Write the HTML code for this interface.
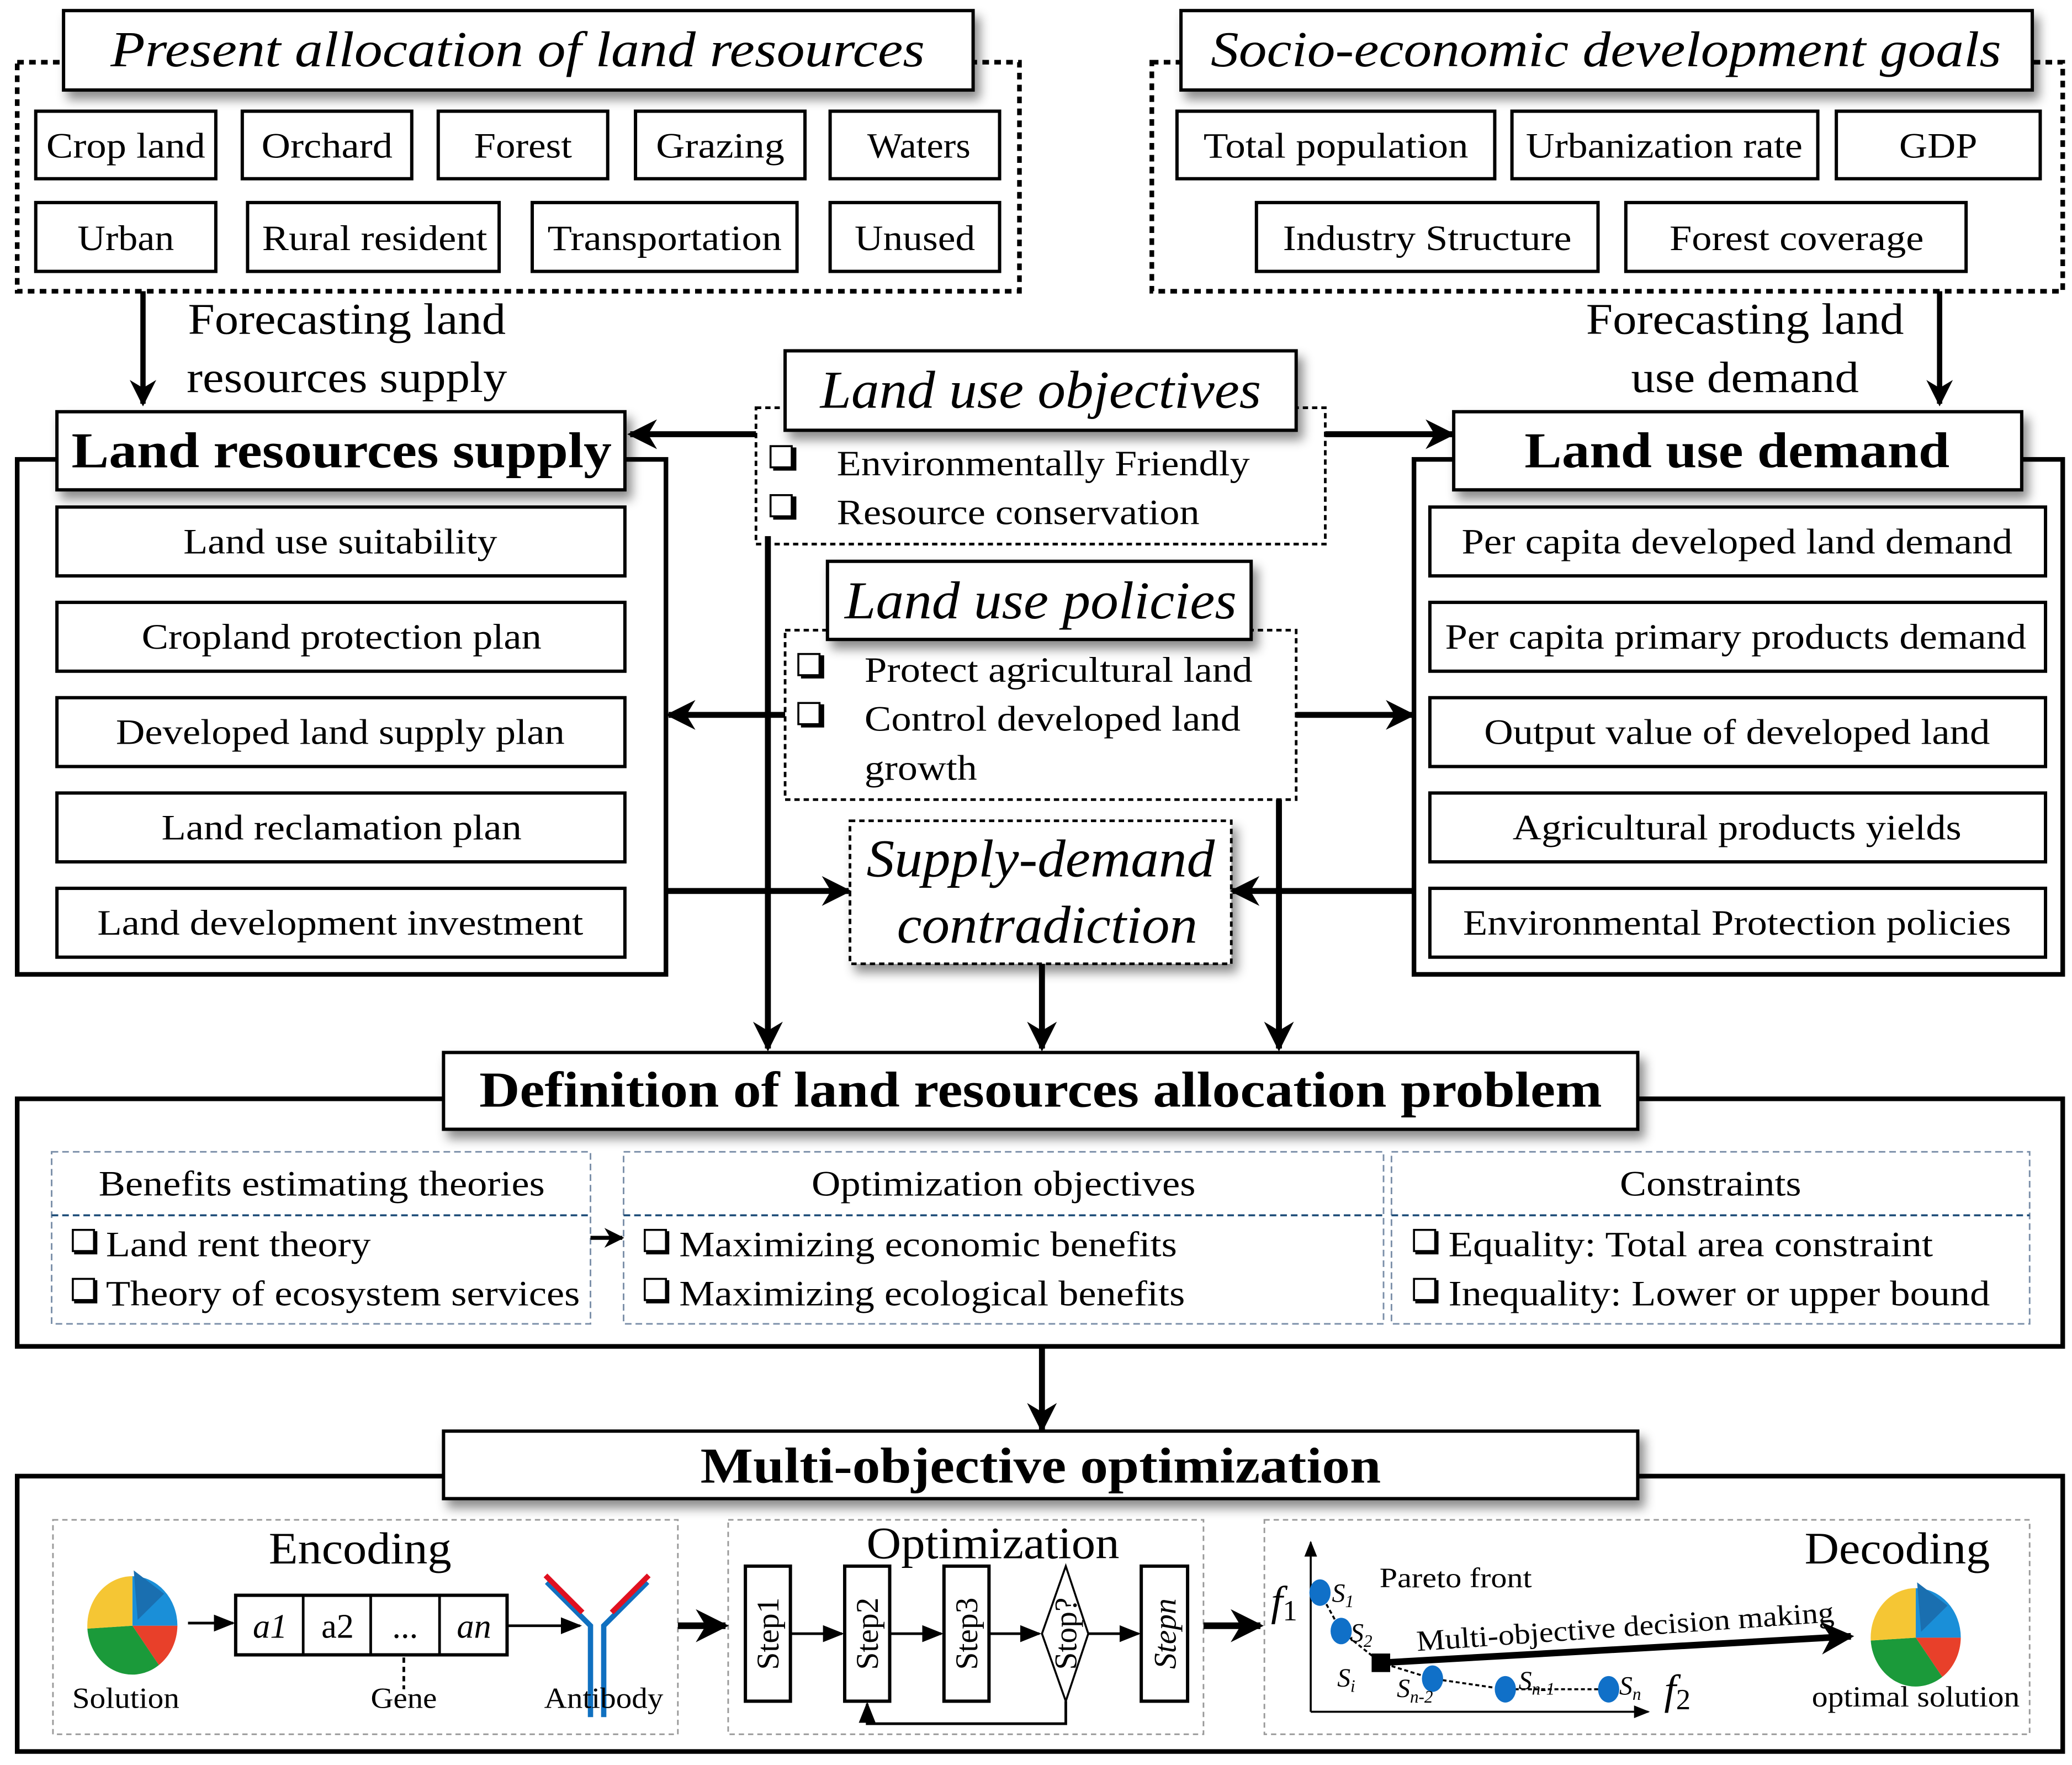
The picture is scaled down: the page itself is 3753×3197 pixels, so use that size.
<!DOCTYPE html>
<html><head><meta charset="utf-8"><style>
html,body{margin:0;padding:0;background:#fff;}
svg{display:block;}
text{font-family:"Liberation Serif","Times New Roman",serif;fill:#000;}
</style></head><body>
<svg width="3753" height="3197" viewBox="0 0 1565 1333.2" preserveAspectRatio="none" xmlns="http://www.w3.org/2000/svg">
<defs>
<filter id="sh" x="-10%" y="-20%" width="130%" height="160%"><feDropShadow dx="4" dy="6" stdDeviation="4" flood-color="#000" flood-opacity="0.45"/></filter>
<marker id="ah" viewBox="0 0 10 10" refX="9" refY="5" markerWidth="5" markerHeight="5" orient="auto" markerUnits="strokeWidth"><path d="M0,0 L10,5 L0,10 L3,5 z" fill="#000"/></marker>
<marker id="as" viewBox="0 0 10 10" refX="9" refY="5" markerWidth="8" markerHeight="8" orient="auto" markerUnits="strokeWidth"><path d="M0,1 L10,5 L0,9 z" fill="#000"/></marker>
</defs>
<rect width="1565" height="1333.2" fill="#fff"/>
<g stroke="#000" fill="none">
<rect x="13" y="47" width="757" height="173" stroke-width="3.5" stroke-dasharray="5,4"/>
<rect x="870" y="47" width="688" height="173" stroke-width="3.5" stroke-dasharray="5,4"/>
</g>
<g stroke="#000" stroke-width="2.5" fill="#fff" filter="url(#sh)">
<rect x="48" y="8" width="687" height="60"/>
<rect x="892" y="8" width="643" height="60"/>
</g>
<g stroke="#000" stroke-width="2.5" fill="#fff">
<rect x="27" y="84" width="136" height="51"/><rect x="183" y="84" width="128" height="51"/><rect x="331" y="84" width="128" height="51"/><rect x="480" y="84" width="128" height="51"/><rect x="627" y="84" width="128" height="51"/>
<rect x="27" y="153" width="136" height="52"/><rect x="187" y="153" width="190" height="52"/><rect x="402" y="153" width="200" height="52"/><rect x="627" y="153" width="128" height="52"/>
<rect x="889" y="84" width="240" height="51"/><rect x="1142" y="84" width="231" height="51"/><rect x="1387" y="84" width="154" height="51"/>
<rect x="949" y="153" width="258" height="52"/><rect x="1228" y="153" width="257" height="52"/>
</g>
<g font-style="italic" font-size="38" text-anchor="middle" lengthAdjust="spacingAndGlyphs">
<text x="391" y="50" textLength="615" lengthAdjust="spacingAndGlyphs">Present allocation of land resources</text>
<text x="1213" y="50" textLength="597" lengthAdjust="spacingAndGlyphs">Socio-economic development goals</text>
</g>
<g font-size="27" text-anchor="middle">
<text x="95" y="119" textLength="120" lengthAdjust="spacingAndGlyphs">Crop land</text><text x="247" y="119" textLength="99" lengthAdjust="spacingAndGlyphs">Orchard</text><text x="395" y="119" textLength="74" lengthAdjust="spacingAndGlyphs">Forest</text><text x="544" y="119" textLength="97" lengthAdjust="spacingAndGlyphs">Grazing</text><text x="694" y="119" textLength="78" lengthAdjust="spacingAndGlyphs">Waters</text>
<text x="95" y="189" textLength="73" lengthAdjust="spacingAndGlyphs">Urban</text><text x="283" y="189" textLength="170" lengthAdjust="spacingAndGlyphs">Rural resident</text><text x="502" y="189" textLength="177" lengthAdjust="spacingAndGlyphs">Transportation</text><text x="691" y="189" textLength="91" lengthAdjust="spacingAndGlyphs">Unused</text>
<text x="1009" y="119" textLength="200" lengthAdjust="spacingAndGlyphs">Total population</text><text x="1257" y="119" textLength="209" lengthAdjust="spacingAndGlyphs">Urbanization rate</text><text x="1464" y="119" textLength="59" lengthAdjust="spacingAndGlyphs">GDP</text>
<text x="1078" y="189" textLength="218" lengthAdjust="spacingAndGlyphs">Industry Structure</text><text x="1357" y="189" textLength="192" lengthAdjust="spacingAndGlyphs">Forest coverage</text>
</g>
<g stroke="#000" stroke-width="4" fill="none">
<line x1="108" y1="220" x2="108" y2="305" marker-end="url(#ah)"/>
<line x1="1465" y1="220" x2="1465" y2="305" marker-end="url(#ah)"/>
</g>
<g font-size="33">
<text x="142" y="252" textLength="240" lengthAdjust="spacingAndGlyphs">Forecasting land</text><text x="141" y="296" textLength="242" lengthAdjust="spacingAndGlyphs">resources supply</text>
<text x="1318" y="252" text-anchor="middle" textLength="240" lengthAdjust="spacingAndGlyphs">Forecasting land</text><text x="1318" y="296" text-anchor="middle" textLength="172" lengthAdjust="spacingAndGlyphs">use demand</text>
</g>
<g stroke="#000" stroke-width="3.5" fill="none">
<rect x="13" y="347" width="490" height="389"/>
<rect x="1068" y="347" width="490" height="389"/>
</g>
<g stroke="#000" stroke-width="2.5" fill="#fff" filter="url(#sh)">
<rect x="43" y="311" width="429" height="59"/>
<rect x="1098" y="311" width="429" height="59"/>
</g>
<g font-weight="bold" font-size="38" text-anchor="middle">
<text x="258" y="353" textLength="408" lengthAdjust="spacingAndGlyphs">Land resources supply</text>
<text x="1312" y="353" textLength="321" lengthAdjust="spacingAndGlyphs">Land use demand</text>
</g>
<g stroke="#000" stroke-width="2.5" fill="#fff">
<rect x="43" y="383" width="429" height="52"/><rect x="43" y="455" width="429" height="52"/><rect x="43" y="527" width="429" height="52"/><rect x="43" y="599" width="429" height="52"/><rect x="43" y="671" width="429" height="52"/>
<rect x="1080" y="383" width="465" height="52"/><rect x="1080" y="455" width="465" height="52"/><rect x="1080" y="527" width="465" height="52"/><rect x="1080" y="599" width="465" height="52"/><rect x="1080" y="671" width="465" height="52"/>
</g>
<g font-size="27" text-anchor="middle">
<text x="257" y="418" textLength="237" lengthAdjust="spacingAndGlyphs">Land use suitability</text><text x="258" y="490" textLength="302" lengthAdjust="spacingAndGlyphs">Cropland protection plan</text><text x="257" y="562" textLength="339" lengthAdjust="spacingAndGlyphs">Developed land supply plan</text><text x="258" y="634" textLength="272" lengthAdjust="spacingAndGlyphs">Land reclamation plan</text><text x="257" y="706" textLength="367" lengthAdjust="spacingAndGlyphs">Land development investment</text>
<text x="1312" y="418" textLength="416" lengthAdjust="spacingAndGlyphs">Per capita developed land demand</text><text x="1311" y="490" textLength="439" lengthAdjust="spacingAndGlyphs">Per capita primary products demand</text><text x="1312" y="562" textLength="382" lengthAdjust="spacingAndGlyphs">Output value of developed land</text><text x="1312" y="634" textLength="339" lengthAdjust="spacingAndGlyphs">Agricultural products yields</text><text x="1312" y="706" textLength="414" lengthAdjust="spacingAndGlyphs">Environmental Protection policies</text>
</g>
<rect x="571" y="308" width="430" height="103" stroke="#000" stroke-width="2" stroke-dasharray="4,3" fill="none"/>
<rect x="593" y="476" width="386" height="128" stroke="#000" stroke-width="2" stroke-dasharray="4,3" fill="none"/>
<g stroke="#000" stroke-width="2.5" fill="#fff" filter="url(#sh)">
<rect x="593" y="265" width="386" height="60"/>
<rect x="625" y="424" width="320" height="59"/>
</g>
<g font-style="italic" font-size="40" text-anchor="middle">
<text x="786" y="308" textLength="333" lengthAdjust="spacingAndGlyphs">Land use objectives</text>
<text x="786" y="467" textLength="296" lengthAdjust="spacingAndGlyphs">Land use policies</text>
</g>
<g stroke="#000" stroke-width="1.5" fill="#fff">
<rect x="582" y="337" width="16" height="16"/><rect x="582" y="374" width="16" height="16"/>
<rect x="603" y="494" width="16" height="16"/><rect x="603" y="531" width="16" height="16"/>
</g>
<g stroke="#000" stroke-width="3" fill="none">
<path d="M584,354 h16 v-16"/><path d="M584,391 h16 v-16"/><path d="M605,511 h16 v-16"/><path d="M605,548 h16 v-16"/>
</g>
<g font-size="27">
<text x="632" y="359" textLength="312" lengthAdjust="spacingAndGlyphs">Environmentally Friendly</text><text x="632" y="396" textLength="274" lengthAdjust="spacingAndGlyphs">Resource conservation</text>
<text x="653" y="515" textLength="293" lengthAdjust="spacingAndGlyphs">Protect agricultural land</text><text x="653" y="552" textLength="284" lengthAdjust="spacingAndGlyphs">Control developed land</text><text x="653" y="589" textLength="85" lengthAdjust="spacingAndGlyphs">growth</text>
</g>
<rect x="642" y="620" width="288" height="108" stroke="#000" stroke-width="2" stroke-dasharray="4,3" fill="#fff" filter="url(#sh)"/>
<g font-style="italic" font-size="40" text-anchor="middle">
<text x="786" y="662" textLength="263" lengthAdjust="spacingAndGlyphs">Supply-demand</text><text x="791" y="712" textLength="227" lengthAdjust="spacingAndGlyphs">contradiction</text>
</g>
<g stroke="#000" stroke-width="4.5" fill="none">
<line x1="571" y1="328" x2="476" y2="328" marker-end="url(#ah)"/>
<line x1="1001" y1="328" x2="1097" y2="328" marker-end="url(#ah)"/>
<line x1="593" y1="540" x2="505" y2="540" marker-end="url(#ah)"/>
<line x1="979" y1="540" x2="1067" y2="540" marker-end="url(#ah)"/>
<line x1="503" y1="673" x2="641" y2="673" marker-end="url(#ah)"/>
<line x1="1068" y1="673" x2="931" y2="673" marker-end="url(#ah)"/>
<line x1="580" y1="405" x2="580" y2="792" marker-end="url(#ah)"/>
<line x1="787" y1="728" x2="787" y2="792" marker-end="url(#ah)"/>
<line x1="966" y1="604" x2="966" y2="792" marker-end="url(#ah)"/>
<line x1="787" y1="1017" x2="787" y2="1080" marker-end="url(#ah)"/>
</g>
<rect x="13" y="830" width="1545" height="187" stroke="#000" stroke-width="3.5" fill="none"/>
<rect x="335" y="795" width="902" height="58" stroke="#000" stroke-width="2.5" fill="#fff" filter="url(#sh)"/>
<text x="786" y="836" font-weight="bold" font-size="38" text-anchor="middle" textLength="848" lengthAdjust="spacingAndGlyphs">Definition of land resources allocation problem</text>
<g stroke="#7a8ea8" stroke-width="1.2" stroke-dasharray="5,3" fill="none">
<rect x="39" y="870" width="407" height="130"/><rect x="471" y="870" width="574" height="130"/><rect x="1051" y="870" width="482" height="130"/>
</g>
<g stroke="#1f4e79" stroke-width="1.5" stroke-dasharray="5,3">
<line x1="39" y1="918" x2="446" y2="918"/><line x1="471" y1="918" x2="1045" y2="918"/><line x1="1051" y1="918" x2="1533" y2="918"/>
</g>
<g font-size="27" text-anchor="middle">
<text x="243" y="903" textLength="337" lengthAdjust="spacingAndGlyphs">Benefits estimating theories</text><text x="758" y="903" textLength="290" lengthAdjust="spacingAndGlyphs">Optimization objectives</text><text x="1292" y="903" textLength="137" lengthAdjust="spacingAndGlyphs">Constraints</text>
</g>
<g font-size="27">
<text x="80" y="949" textLength="200" lengthAdjust="spacingAndGlyphs">Land rent theory</text><text x="80" y="986" textLength="358" lengthAdjust="spacingAndGlyphs">Theory of ecosystem services</text>
<text x="513" y="949" textLength="376" lengthAdjust="spacingAndGlyphs">Maximizing economic benefits</text><text x="513" y="986" textLength="382" lengthAdjust="spacingAndGlyphs">Maximizing ecological benefits</text>
<text x="1094" y="949" textLength="366" lengthAdjust="spacingAndGlyphs">Equality: Total area constraint</text><text x="1094" y="986" textLength="409" lengthAdjust="spacingAndGlyphs">Inequality: Lower or upper bound</text>
</g>
<g stroke="#000" stroke-width="1.5" fill="#fff">
<rect x="55" y="929" width="16" height="16"/><rect x="55" y="966" width="16" height="16"/>
<rect x="487" y="929" width="16" height="16"/><rect x="487" y="966" width="16" height="16"/>
<rect x="1068" y="929" width="16" height="16"/><rect x="1068" y="966" width="16" height="16"/>
</g>
<g stroke="#000" stroke-width="3" fill="none">
<path d="M56,946 h16 v-16"/><path d="M56,983 h16 v-16"/><path d="M488,946 h16 v-16"/><path d="M488,983 h16 v-16"/><path d="M1069,946 h16 v-16"/><path d="M1069,983 h16 v-16"/>
</g>
<line x1="446" y1="935" x2="470" y2="935" stroke="#000" stroke-width="3" marker-end="url(#ah)"/>
<rect x="13" y="1115" width="1545" height="208" stroke="#000" stroke-width="3.5" fill="none"/>
<rect x="335" y="1081" width="902" height="51" stroke="#000" stroke-width="2.5" fill="#fff" filter="url(#sh)"/>
<text x="786" y="1120" font-weight="bold" font-size="38" text-anchor="middle" textLength="514" lengthAdjust="spacingAndGlyphs">Multi-objective optimization</text>
<g stroke="#999" stroke-width="1.2" stroke-dasharray="4,3" fill="none">
<rect x="40" y="1148" width="472" height="162"/><rect x="550" y="1148" width="359" height="162"/><rect x="955" y="1148" width="578" height="162"/>
</g>
<g font-size="34" text-anchor="middle">
<text x="272" y="1181" textLength="138" lengthAdjust="spacingAndGlyphs">Encoding</text><text x="750" y="1177" textLength="191" lengthAdjust="spacingAndGlyphs">Optimization</text><text x="1433" y="1181" textLength="140" lengthAdjust="spacingAndGlyphs">Decoding</text>
</g>
<g transform="translate(100,1228) scale(1,1.1)">
<path d="M0,0 L0,-34 A34,34 0 0 1 34,0 z" fill="#1a8fd8"/>
<path d="M0,0 L34,0 A34,34 0 0 1 20,27 z" fill="#e8402a"/>
<path d="M0,0 L20,27 A34,34 0 0 1 -34,2 z" fill="#1b9a3a"/>
<path d="M0,0 L-34,2 A34,34 0 0 1 0,-34 z" fill="#f5c634"/>
<path d="M1,-38 L24,-22 L4,-4 z" fill="#1a6fb0"/>
</g>
<g transform="translate(1447,1237) scale(1,1.1)">
<path d="M0,0 L0,-34 A34,34 0 0 1 34,0 z" fill="#1a8fd8"/>
<path d="M0,0 L34,0 A34,34 0 0 1 20,27 z" fill="#e8402a"/>
<path d="M0,0 L20,27 A34,34 0 0 1 -34,2 z" fill="#1b9a3a"/>
<path d="M0,0 L-34,2 A34,34 0 0 1 0,-34 z" fill="#f5c634"/>
<path d="M1,-38 L24,-22 L4,-4 z" fill="#1a6fb0"/>
</g>
<g stroke="#000" stroke-width="2" fill="none">
<line x1="142" y1="1226" x2="176" y2="1226" marker-end="url(#as)"/>
<rect x="178" y="1205" width="205" height="45" stroke-width="2.5"/>
<line x1="229" y1="1205" x2="229" y2="1250"/><line x1="280" y1="1205" x2="280" y2="1250"/><line x1="332" y1="1205" x2="332" y2="1250"/>
<line x1="383" y1="1228" x2="438" y2="1228" marker-end="url(#as)"/>
<line x1="305" y1="1252" x2="305" y2="1276" stroke-dasharray="4,3"/>
</g>
<g font-style="italic" font-size="26" text-anchor="middle">
<text x="204" y="1237">a1</text><text x="255" y="1237" font-style="normal">a2</text><text x="306" y="1237" font-style="normal">...</text><text x="358" y="1237">an</text>
</g>
<g fill="none" stroke-width="4">
<path d="M446,1297 V1228 L413,1195" stroke="#1070c0"/>
<path d="M456,1297 V1228 L489,1195" stroke="#1070c0"/>
<path d="M412,1190 L440,1218" stroke="#e01020"/>
<path d="M490,1190 L462,1218" stroke="#e01020"/>
</g>
<g font-size="22" text-anchor="middle">
<text x="95" y="1290" textLength="81" lengthAdjust="spacingAndGlyphs">Solution</text><text x="305" y="1290" textLength="50" lengthAdjust="spacingAndGlyphs">Gene</text><text x="456" y="1290" textLength="90" lengthAdjust="spacingAndGlyphs">Antibody</text>
</g>
<g stroke="#000" stroke-width="5">
<line x1="512" y1="1228" x2="548" y2="1228" marker-end="url(#ah)"/>
<line x1="909" y1="1228" x2="952" y2="1228" marker-end="url(#ah)"/>
</g>
<g stroke="#000" stroke-width="2.5" fill="#fff">
<rect x="563" y="1183" width="34" height="102"/><rect x="638" y="1183" width="34" height="102"/><rect x="713" y="1183" width="34" height="102"/><rect x="862" y="1183" width="35" height="102"/>
<path d="M805,1183 L822,1234 L805,1285 L787,1234 z" stroke-width="1.5"/>
</g>
<g stroke="#000" stroke-width="2" fill="none">
<line x1="597" y1="1234" x2="636" y2="1234" marker-end="url(#as)"/>
<line x1="672" y1="1234" x2="711" y2="1234" marker-end="url(#as)"/>
<line x1="747" y1="1234" x2="785" y2="1234" marker-end="url(#as)"/>
<line x1="822" y1="1234" x2="860" y2="1234" marker-end="url(#as)"/>
<path d="M805,1285 V1302 H655 V1287" marker-end="url(#as)"/>
</g>
<g font-size="24" text-anchor="middle">
<text transform="translate(588,1234) rotate(-90)">Step1</text>
<text transform="translate(663,1234) rotate(-90)">Step2</text>
<text transform="translate(738,1234) rotate(-90)">Step3</text>
<text transform="translate(813,1234) rotate(-90)">Stop?</text>
<text transform="translate(888,1234) rotate(-90)" font-style="italic">Stepn</text>
</g>
<g stroke="#000" stroke-width="1.5" fill="none">
<line x1="990" y1="1293" x2="990" y2="1165" marker-end="url(#as)"/>
<line x1="990" y1="1293" x2="1245" y2="1293" marker-end="url(#as)"/>
<path d="M997,1203 L1013,1232 L1043,1256 L1082,1268 L1137,1276 L1215,1276" stroke-dasharray="3,2"/>
</g>
<g fill="#1070c8">
<ellipse cx="997" cy="1203" rx="8" ry="10"/><ellipse cx="1013" cy="1232" rx="8" ry="10"/><ellipse cx="1082" cy="1268" rx="8" ry="10"/><ellipse cx="1137" cy="1276" rx="8" ry="10"/><ellipse cx="1215" cy="1276" rx="8" ry="10"/>
</g>
<rect x="1036" y="1249" width="14" height="14" fill="#000"/>
<line x1="1043" y1="1256" x2="1398" y2="1236" stroke="#000" stroke-width="5" marker-end="url(#ah)"/>
<g font-style="italic" font-size="20">
<text x="1006" y="1210">S<tspan font-size="13" dy="4">1</tspan></text>
<text x="1020" y="1240">S<tspan font-size="13" dy="4">2</tspan></text>
<text x="1010" y="1274">S<tspan font-size="13" dy="4">i</tspan></text>
<text x="1055" y="1282">S<tspan font-size="13" dy="4">n-2</tspan></text>
<text x="1147" y="1276">S<tspan font-size="13" dy="4">n-1</tspan></text>
<text x="1223" y="1280">S<tspan font-size="13" dy="4">n</tspan></text>
</g>
<text x="960" y="1220" font-style="italic" font-size="32">f<tspan font-size="22" font-style="normal" dy="4">1</tspan></text>
<text x="1257" y="1287" font-style="italic" font-size="32">f<tspan font-size="22" font-style="normal" dy="4">2</tspan></text>
<text x="1042" y="1199" font-size="21" textLength="115" lengthAdjust="spacingAndGlyphs">Pareto front</text>
<text x="1228" y="1236" font-size="22" text-anchor="middle" transform="rotate(-4 1228 1236)" textLength="316" lengthAdjust="spacingAndGlyphs">Multi-objective decision making</text>
<text x="1447" y="1289" font-size="22" text-anchor="middle" textLength="157" lengthAdjust="spacingAndGlyphs">optimal solution</text>
</svg>
</body></html>
